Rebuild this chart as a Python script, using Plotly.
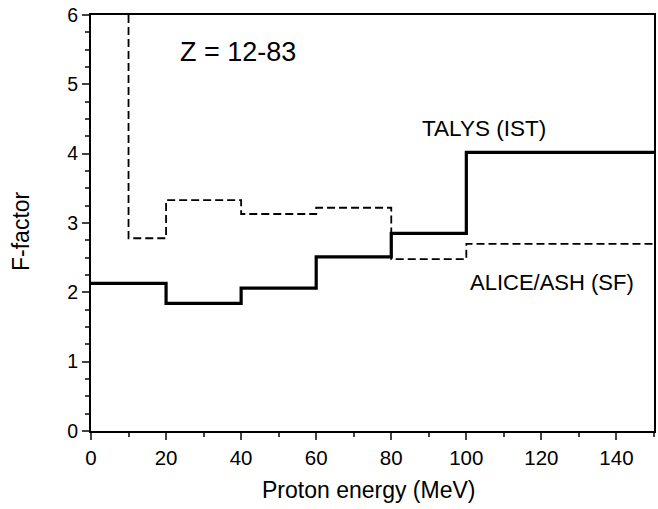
import plotly.graph_objects as go

talys_x = [0, 20, 40, 60, 80, 100, 150]
talys_y = [2.13, 1.84, 2.06, 2.51, 2.85, 4.02, 4.02]
alice_x = [10, 10, 20, 40, 60, 80, 100, 150]
alice_y = [6.0, 2.78, 3.33, 3.13, 3.22, 2.48, 2.70, 2.70]

font = "Liberation Sans, Arial, sans-serif"
fig = go.Figure()
fig.add_trace(go.Scatter(x=talys_x, y=talys_y, mode="lines", line_shape="hv",
                         line=dict(color="black", width=3.2), showlegend=False))
fig.add_trace(go.Scatter(x=alice_x, y=alice_y, mode="lines", line_shape="hv",
                         line=dict(color="black", width=1.8, dash="8px,4px"), showlegend=False))

fig.add_annotation(x=23.2, y=5.47, text="Z = 12-83", showarrow=False, xanchor="left",
                   font=dict(size=27, color="black", family=font))
fig.add_annotation(x=104.7, y=4.37, text="TALYS (IST)", showarrow=False,
                   font=dict(size=22.5, color="black", family=font))
fig.add_annotation(x=122.9, y=2.14, text="ALICE/ASH (SF)", showarrow=False,
                   font=dict(size=22, color="black", family=font))
fig.add_annotation(xref="paper", yref="paper", x=(368.5 - 91) / 563, y=(431 - 490) / 416,
                   text="Proton energy (MeV)", showarrow=False, xanchor="center", yanchor="middle",
                   font=dict(size=23, color="black", family=font))
fig.add_annotation(xref="paper", yref="paper", x=(21 - 91) / 563, y=(431 - 231) / 416,
                   text="F-factor", showarrow=False, xanchor="center", yanchor="middle",
                   textangle=-90, font=dict(size=23, color="black", family=font))

fig.update_layout(
    width=658, height=509,
    margin=dict(l=91, r=4, t=15, b=78),
    plot_bgcolor="white", paper_bgcolor="white",
    font=dict(family=font, color="black", size=20),
)
fig.update_xaxes(range=[0, 150], tickvals=list(range(0, 141, 20)), ticks="outside",
                 ticklen=7, tickwidth=1.8, linecolor="black", linewidth=1.8, mirror=True,
                 showgrid=False, zeroline=False, automargin=False,
                 minor=dict(ticks="outside", ticklen=4, tickwidth=1.8, dtick=10, tick0=0),
                 tickfont=dict(size=20.5))
fig.update_yaxes(range=[0, 6], tickvals=list(range(0, 7)), ticks="outside",
                 ticklen=7, tickwidth=1.8, linecolor="black", linewidth=1.8, mirror=True,
                 showgrid=False, zeroline=False, automargin=False,
                 minor=dict(ticks="outside", ticklen=4, tickwidth=1.8, dtick=0.25, tick0=0),
                 tickfont=dict(size=19.5))
fig.write_html("out.html", config={"displayModeBar": False},
               post_script="document.body.style.margin='0';document.body.style.overflow='hidden';")
